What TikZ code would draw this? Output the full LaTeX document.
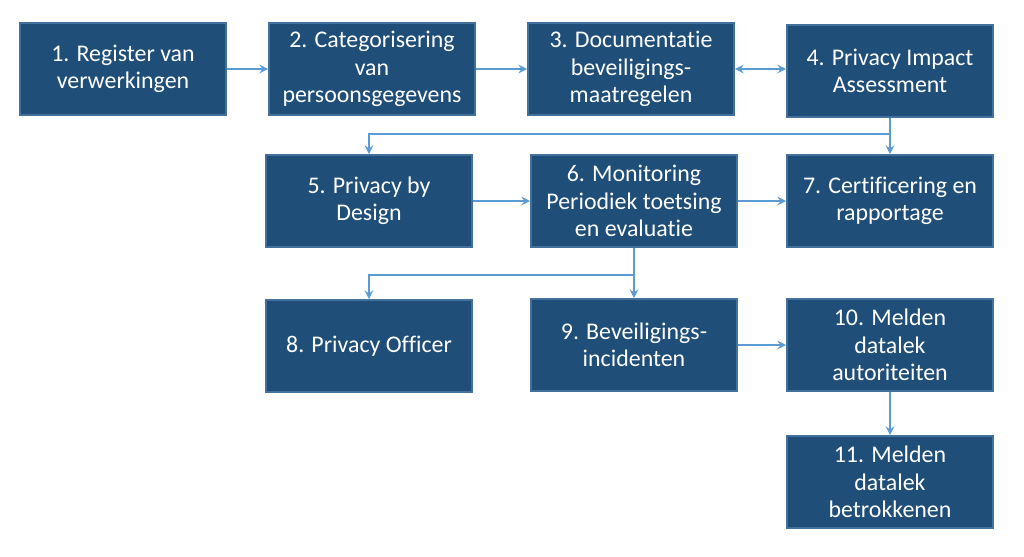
\documentclass[tikz,border=0pt]{standalone}
\usepackage{fontspec}
\setmainfont{Carlito}[Ligatures=NoCommon]
\usepackage{tikz}
\usetikzlibrary{arrows,positioning}

\definecolor{boxfill}{RGB}{31,78,121}
\definecolor{boxline}{RGB}{65,113,156}
\definecolor{linkblue}{RGB}{91,155,213}

\begin{document}
\begin{tikzpicture}[
            x=0.02cm, y=-0.02cm,
            box/.style={rectangle, draw=boxline, line width=1pt, fill=boxfill, text=white, minimum width=4.12cm, minimum height=1.84cm, text centered, align=center, font=\fontsize{13.6}{15.5}\selectfont},
            arrow/.style={->, >=stealth, draw=linkblue, line width=1.2pt}
        ]
            \useasboundingbox (0,0) rectangle (1024,556);

            \node[box] (register) at (123,69) {1. Register van\\verwerkingen};
            \node[box] (categ) at (372,69) {2. Categorisering\\van\\persoonsgegevens};
            \node[box] (docu) at (631,69) {3. Documentatie\\beveiligings-\\maatregelen};
            \node[box] (pia) at (890,71) {4. Privacy Impact\\Assessment};
            \node[box] (design) at (369,201) {5. Privacy by\\Design};
            \node[box] (monitor) at (634,201) {6. Monitoring\\Periodiek toetsing\\en evaluatie};
            \node[box] (cert) at (890,201) {7. Certificering en\\rapportage};
            \node[box] (officer) at (369,346) {8. Privacy Officer};
            \node[box] (incident) at (634,345) {9. Beveiligings-\\incidenten};
            \node[box] (meldaut) at (890,345) {10. Melden\\datalek\\autoriteiten};
            \node[box] (meldbetr) at (890,482) {11. Melden\\datalek\\betrokkenen};

            \draw[arrow] (register) -- (categ);
            \draw[arrow] (categ) -- (docu);
            \draw[arrow, <->] (docu.east) -- (docu.east -| pia.west);
            \draw[arrow] (pia.south) -- ++(0,16) -| (design.north);
            \draw[arrow] (pia) -- (cert);
            \draw[arrow] (design) -- (monitor);
            \draw[arrow] (monitor) -- (cert);
            \draw[arrow] (monitor.south) -- ++(0,27) -| (officer.north);
            \draw[arrow] (monitor) -- (incident);
            \draw[arrow] (incident) -- (meldaut);
            \draw[arrow] (meldaut) -- (meldbetr);
        \end{tikzpicture}
\end{document}
